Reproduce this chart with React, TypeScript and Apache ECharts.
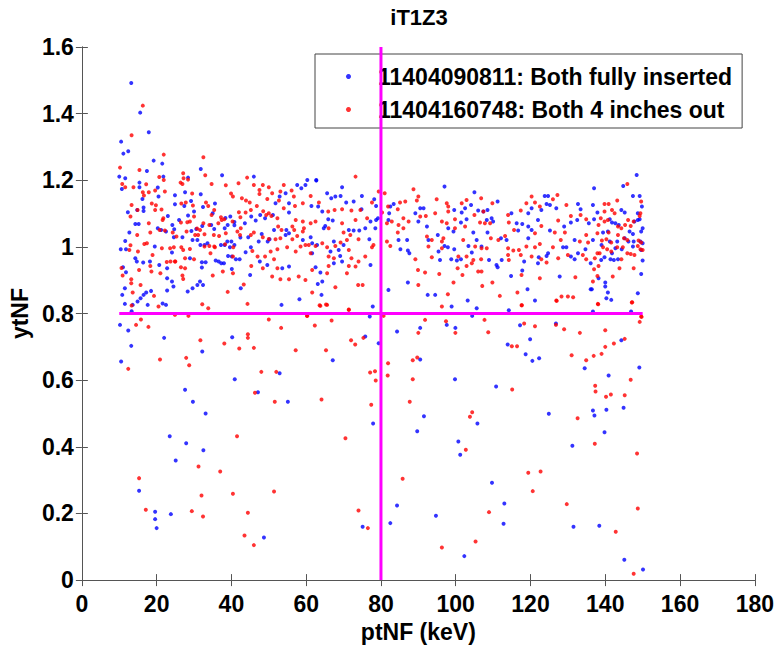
import React, { useEffect, useRef } from "react";
import * as echarts from "echarts";

const chartTitle = "iT1Z3";
const xName = "ptNF (keV)";
const yName = "ytNF";
const blueName = "11404090811: Both fully inserted";
const redName = "11404160748: Both 4 inches out";

const cutX = [[80, 0], [80, 1.6]];
const cutY = [[10, 0.8], [150, 0.8]];

const blueHigh = [[13.2,1.492],[15.6,1.403],[17.9,1.344],[10.5,1.316],[11.1,1.28],[12.4,1.287]];
const blueA = [[19.2,1.259],[21.5,1.25],[10.0,1.211],[11.6,1.206],[15.4,1.193],[17.4,1.228],[10.7,1.174],[15.4,1.179],[20.3,1.178],[21.8,1.211],[24.9,1.155],[27.6,1.164],[28.4,1.208],[31.8,1.234],[37.5,1.215],[46.0,1.211],[31.8,1.158],[20.5,1.151],[16.2,1.144],[24.9,1.128],[29.2,1.138],[30.0,1.106],[27.4,1.123],[32.4,1.12],[35.6,1.13],[16.5,1.118],[16.5,1.108],[12.3,1.104],[14.8,1.111],[23.0,1.093],[26.0,1.081],[28.4,1.094],[24.2,1.066],[35.0,1.101],[38.4,1.087],[39.7,1.091],[40.8,1.075],[43.6,1.071],[45.3,1.091],[46.5,1.079],[47.7,1.096],[49.0,1.086],[14.3,1.069],[15.2,1.069],[20.3,1.056],[21.2,1.051],[22.5,1.046],[24.7,1.053],[29.3,1.048],[30.6,1.054],[32.2,1.063],[34.6,1.066],[35.4,1.054],[38.2,1.056],[39.0,1.066],[40.8,1.065],[42.4,1.028],[44.5,1.029],[48.1,1.039],[12.7,1.043],[10.4,0.993],[11.8,0.993],[11.6,1.018],[19.5,1.001],[24.6,1.029],[26.9,1.029],[29.6,1.021],[30.9,1.021],[31.7,1.006],[32.8,1.006],[33.6,1.011],[37.2,1.006],[38.2,1.006],[38.9,1.016],[39.6,0.999],[40.0,1.016],[40.8,1.006],[43.8,0.984],[45.2,0.999],[47.3,1.016],[50.2,1.023],[14.3,0.966],[14.7,0.956],[16.4,0.953],[18.2,0.956],[20.7,0.946],[22.8,0.936],[24.1,0.983],[28.9,0.966],[32.1,0.954],[33.1,0.954],[35.8,0.959],[36.6,0.956],[37.3,0.951],[38.0,0.951],[39.1,0.973],[40.1,0.971],[41.2,0.963],[42.2,0.963],[32.1,0.938],[40.1,0.934],[11.0,0.939],[11.8,0.924],[22.8,0.906],[24.1,0.896],[24.5,0.881],[22.8,0.869],[18.5,0.868],[17.2,0.863],[16.5,0.856],[15.7,0.846],[14.9,0.836],[11.5,0.876],[10.8,0.856],[11.5,0.829],[13.6,0.826],[17.6,0.826],[21.6,0.83],[22.5,0.826],[28.3,0.866],[29.6,0.876],[30.9,0.886],[31.6,0.896],[32.4,0.886],[42.5,0.876],[45.0,0.916],[47.6,0.956],[49.6,0.946],[49.7,1.016],[13.3,0.807]];
const blueB = [[57.6,1.186],[59.8,1.186],[60.3,1.201],[62.7,1.201],[58.7,1.176],[54.5,1.161],[52.9,1.151],[65.6,1.161],[66.7,1.146],[67.8,1.151],[69.6,1.179],[69.2,1.153],[70.7,1.133],[72.7,1.136],[74.9,1.153],[74.8,1.113],[78.2,1.143],[78.7,1.123],[61.4,1.123],[63.2,1.121],[64.3,1.106],[51.8,1.131],[55.4,1.131],[55.4,1.103],[51.1,1.096],[65.9,1.083],[67.1,1.079],[64.7,1.056],[65.1,1.063],[54.7,1.051],[54.5,1.036],[55.4,1.041],[51.4,1.051],[59.1,1.021],[61.2,1.029],[61.6,1.011],[62.9,1.006],[67.4,1.016],[68.7,0.991],[69.1,0.973],[70.0,1.006],[71.4,1.051],[72.7,1.049],[74.2,1.049],[75.8,1.056],[76.9,1.023],[78.5,1.056],[78.7,1.081],[79.2,1.086],[77.2,1.076],[82.0,1.081],[82.5,1.121],[83.4,1.129],[82.2,1.101],[84.7,1.021],[87.0,1.021],[85.2,0.993],[87.2,0.989],[87.6,0.981],[89.2,1.101],[90.5,1.116],[91.4,1.116],[90.0,1.076],[92.3,1.061],[92.7,1.021],[61.6,0.981],[66.5,0.986],[69.6,0.956],[67.4,0.951],[62.5,0.939],[53.6,0.936],[55.4,0.941],[63.8,0.923],[64.3,0.896],[63.1,0.889],[77.2,0.946],[82.0,0.871],[87.2,0.893],[92.5,0.856],[58.2,0.843],[53.4,0.826],[64.1,0.856],[77.0,0.791],[77.8,0.821],[62.7,1.199]];
const blueC = [[97.0,1.181],[105.0,1.164],[104.1,1.126],[102.5,1.116],[99.6,1.111],[101.6,1.103],[106.0,1.109],[107.4,1.106],[108.5,1.111],[111.2,1.136],[109.6,1.086],[108.3,1.081],[110.0,1.076],[114.9,1.101],[119.4,1.101],[120.3,1.116],[123.8,1.153],[124.7,1.153],[124.3,1.129],[125.2,1.126],[122.9,1.111],[122.0,1.081],[117.8,1.069],[116.3,1.071],[116.7,1.049],[119.4,1.061],[120.3,1.051],[125.2,1.049],[126.9,1.116],[129.0,1.061],[130.8,1.073],[132.7,1.129],[133.4,1.113],[132.5,1.081],[135.6,1.071],[95.2,1.036],[98.0,1.056],[99.4,1.046],[101.4,1.073],[102.9,1.083],[104.7,1.043],[108.5,1.043],[112.1,1.026],[113.6,1.021],[119.4,1.026],[129.6,0.999],[131.8,1.021],[95.4,0.986],[95.8,0.961],[97.0,1.003],[97.9,0.999],[99.6,0.993],[103.4,1.003],[105.6,1.021],[106.9,1.001],[98.8,0.963],[100.3,0.959],[101.4,0.963],[104.3,0.983],[108.9,0.961],[110.9,0.946],[111.2,0.939],[112.3,0.961],[118.3,0.956],[117.8,0.929],[122.0,0.951],[122.2,0.969],[124.3,0.973],[124.7,0.981],[128.7,0.999],[130.8,0.971],[131.8,0.963],[132.7,0.981],[134.7,0.993],[136.1,0.951],[114.8,0.913],[127.8,0.911],[119.2,0.873],[94.5,0.856],[103.2,0.839],[98.9,0.821],[105.6,0.816],[114.2,0.81],[121.2,0.839],[136.1,0.873],[104.4,0.793]];
const blueD = [[148.4,1.216],[147.4,1.153],[149.2,1.153],[144.8,1.183],[149.8,1.121],[144.3,1.111],[137.0,1.176],[136.7,1.126],[137.9,1.103],[137.0,1.083],[141.8,1.073],[142.7,1.071],[141.2,1.083],[145.2,1.103],[148.7,1.101],[148.7,1.081],[147.8,1.076],[149.2,1.083],[143.6,1.066],[140.7,1.046],[139.4,1.043],[150.0,1.056],[146.5,1.046],[147.4,1.039],[149.6,1.046],[145.2,1.026],[146.2,1.016],[147.6,1.016],[149.4,1.016],[150.0,1.011],[136.7,1.021],[139.0,1.006],[141.2,1.016],[143.2,1.016],[142.7,0.996],[144.4,0.993],[141.8,0.981],[147.4,1.001],[149.6,0.991],[139.8,0.969],[141.4,0.963],[138.9,0.961],[142.3,0.961],[143.4,0.963],[150.0,0.959],[138.2,0.906],[140.0,0.893],[140.0,0.881],[136.4,0.873],[149.6,0.919],[140.7,0.863],[140.3,0.846],[141.6,0.841],[148.7,0.861],[146.9,0.806],[136.7,0.806]];
const blueLow = [[10.2,0.766],[12.4,0.749],[13.2,0.703],[10.5,0.656],[22.0,0.727],[32.2,0.686],[40.2,0.729],[40.9,0.603],[27.6,0.571],[29.7,0.535],[33.1,0.5],[23.5,0.432],[27.9,0.411],[32.5,0.39],[25.1,0.359],[15.3,0.268],[19.6,0.205],[23.8,0.198],[19.6,0.183],[20.0,0.156],[47.1,0.564],[52.9,0.621],[55.1,0.535],[48.7,0.128],[84.3,0.746],[75.8,0.731],[79.4,0.711],[67.1,0.66],[90.5,0.757],[90.5,0.662],[97.6,0.766],[99.9,0.757],[117.2,0.765],[113.9,0.707],[118.7,0.678],[119.9,0.723],[99.8,0.603],[110.8,0.581],[91.5,0.492],[77.9,0.47],[89.7,0.447],[105.8,0.47],[100.7,0.416],[101.2,0.376],[109.7,0.292],[113.0,0.23],[84.3,0.224],[94.7,0.193],[75.1,0.16],[82.5,0.171],[112.8,0.169],[102.3,0.072],[126.8,0.77],[120.5,0.658],[122.3,0.666],[134.5,0.636],[140.9,0.614],[144.3,0.72],[149.1,0.638],[124.9,0.499],[136.7,0.509],[137.1,0.494],[140.3,0.511],[144.9,0.517],[139.8,0.444],[131.2,0.403],[131.5,0.16],[138.4,0.163],[145.1,0.061],[150.1,0.032]];

const redHigh = [[16.3,1.424],[13.3,1.335],[21.9,1.277],[32.5,1.269]];
const redA = [[10.2,1.238],[15.4,1.231],[10.8,1.189],[11.6,1.179],[13.8,1.179],[17.2,1.188],[20.7,1.21],[21.9,1.201],[26.4,1.193],[26.9,1.189],[27.1,1.221],[27.2,1.206],[28.4,1.202],[33.0,1.215],[34.7,1.189],[38.5,1.185],[41.9,1.191],[44.2,1.208],[46.0,1.186],[48.4,1.186],[50.0,1.179],[47.5,1.171],[16.3,1.164],[16.6,1.154],[17.9,1.164],[19.6,1.169],[22.2,1.166],[29.5,1.16],[39.9,1.16],[40.4,1.151],[42.8,1.146],[43.9,1.139],[44.9,1.133],[47.5,1.159],[49.6,1.144],[13.3,1.126],[14.9,1.111],[18.7,1.13],[19.8,1.125],[19.6,1.111],[21.3,1.112],[21.8,1.086],[26.6,1.13],[27.8,1.133],[29.7,1.124],[33.2,1.133],[33.8,1.123],[35.4,1.111],[34.7,1.096],[37.2,1.089],[37.4,1.081],[42.0,1.104],[42.4,1.089],[43.8,1.103],[45.2,1.111],[46.8,1.123],[48.5,1.107],[49.3,1.096],[50.0,1.101],[50.7,1.093],[13.0,1.091],[17.9,1.071],[21.6,1.081],[26.5,1.073],[28.2,1.074],[28.9,1.076],[30.0,1.091],[30.8,1.055],[31.6,1.051],[32.5,1.071],[34.1,1.066],[36.5,1.071],[38.1,1.083],[40.3,1.076],[42.5,1.056],[46.0,1.043],[14.8,1.036],[18.3,1.043],[20.8,1.051],[22.2,1.049],[24.3,1.043],[25.3,1.031],[28.0,1.046],[30.3,1.036],[31.1,1.036],[32.8,1.038],[35.3,1.036],[36.7,1.033],[38.5,1.041],[41.6,1.046],[42.3,1.036],[45.2,1.036],[48.4,1.029],[50.0,1.024],[13.0,1.005],[12.7,0.991],[16.7,1.009],[17.4,1.011],[21.4,0.996],[23.6,0.996],[24.6,0.999],[26.6,0.999],[27.1,0.991],[28.9,0.994],[32.8,1.001],[34.1,1.003],[35.4,1.001],[38.3,1.008],[40.5,0.999],[45.6,0.988],[47.0,0.971],[49.0,0.971],[50.5,0.986],[15.0,0.986],[18.9,0.976],[22.7,0.955],[23.7,0.956],[24.9,0.956],[27.6,0.966],[26.5,0.939],[27.6,0.936],[30.0,0.963],[34.4,0.981],[35.6,0.999],[40.4,0.971],[48.4,0.936],[10.6,0.937],[15.3,0.931],[18.3,0.943],[18.6,0.926],[21.0,0.921],[25.0,0.956],[26.9,0.914],[27.1,0.904],[35.0,0.914],[37.7,0.926],[40.4,0.921],[45.3,0.943],[13.2,0.903],[13.2,0.891],[15.7,0.886],[19.3,0.853],[20.5,0.821],[24.9,0.796],[28.5,0.793],[32.2,0.828],[33.8,0.816],[39.0,0.865],[43.3,0.887],[44.3,0.829],[10.9,0.914],[13.6,0.863],[13.3,0.824],[15.8,0.782]];
const redB = [[73.2,1.211],[54.0,1.186],[50.9,1.161],[53.1,1.166],[56.1,1.169],[56.7,1.151],[61.2,1.153],[52.7,1.139],[57.0,1.123],[54.0,1.116],[59.1,1.131],[63.4,1.133],[65.9,1.106],[67.6,1.111],[69.6,1.113],[72.1,1.109],[74.5,1.111],[77.6,1.133],[79.4,1.166],[81.0,1.161],[81.9,1.121],[84.5,1.113],[85.1,1.133],[86.5,1.136],[88.7,1.173],[90.0,1.151],[89.6,1.139],[92.0,1.093],[90.5,1.091],[87.4,1.076],[86.0,1.086],[84.7,1.066],[82.9,1.076],[81.6,1.071],[80.3,1.103],[52.3,1.086],[57.2,1.081],[59.1,1.076],[61.2,1.071],[62.5,1.076],[52.5,1.061],[56.3,1.061],[56.8,1.051],[53.4,1.051],[59.4,1.056],[59.1,1.046],[66.0,1.056],[69.6,1.071],[70.0,1.043],[71.8,1.036],[73.2,1.081],[76.3,1.086],[51.8,1.023],[53.1,1.026],[56.3,1.023],[57.6,1.033],[59.8,1.006],[60.7,1.006],[62.5,1.003],[64.3,1.011],[65.6,0.999],[67.8,1.003],[69.2,1.013],[70.9,1.021],[74.0,1.023],[77.6,0.999],[78.0,1.006],[81.6,1.016],[82.5,1.003],[84.5,1.043],[86.0,1.056],[92.3,1.031],[92.7,1.001],[52.3,0.993],[54.9,0.999],[57.2,0.986],[58.5,1.001],[61.2,0.981],[66.0,0.971],[67.4,0.966],[71.4,0.991],[72.1,0.966],[73.2,0.941],[71.4,0.943],[74.0,0.956],[75.8,0.971],[66.0,0.943],[51.4,0.963],[52.3,0.936],[50.9,0.911],[53.1,0.903],[55.4,0.903],[59.8,0.901],[58.0,0.911],[61.6,0.931],[65.6,0.921],[70.9,0.921],[73.9,0.886],[75.1,0.886],[67.8,0.879],[61.6,0.863],[63.8,0.823],[65.6,0.826],[71.4,0.811],[89.9,0.931],[91.8,0.923],[90.0,0.886],[60.3,0.793],[89.2,0.963],[60.2,0.793],[63.6,0.825],[65.3,0.827],[71.4,0.812],[80.7,0.793],[91.8,0.781]];
const redC = [[94.9,1.143],[97.6,1.131],[98.0,1.121],[98.0,1.106],[101.6,1.131],[102.9,1.141],[106.8,1.146],[109.8,1.131],[94.5,1.101],[96.3,1.076],[97.6,1.071],[99.8,1.083],[99.8,1.056],[102.5,1.061],[105.0,1.096],[106.5,1.073],[107.8,1.071],[107.4,1.106],[109.2,1.071],[114.0,1.096],[117.4,1.109],[118.9,1.131],[120.3,1.151],[121.2,1.133],[122.5,1.121],[127.2,1.156],[126.0,1.143],[129.6,1.126],[127.4,1.079],[130.8,1.093],[133.4,1.096],[134.9,1.083],[114.2,1.073],[115.6,1.051],[121.2,1.041],[122.9,1.063],[126.5,1.043],[129.2,1.043],[134.9,1.036],[93.6,1.021],[96.3,1.016],[96.7,1.026],[102.0,1.021],[105.2,1.001],[106.9,0.996],[108.3,0.996],[109.4,1.026],[111.4,1.021],[113.2,1.033],[114.0,0.996],[115.4,0.989],[116.9,0.991],[118.9,1.001],[121.2,0.999],[122.5,1.009],[126.0,0.999],[128.1,1.021],[133.2,1.016],[135.4,1.013],[93.6,0.969],[96.3,0.996],[100.7,0.971],[102.9,0.971],[104.7,0.961],[106.8,0.963],[114.0,0.976],[114.2,0.961],[117.4,0.976],[120.3,0.971],[122.9,0.963],[124.3,0.953],[127.4,0.966],[130.0,0.976],[134.0,0.976],[134.9,0.963],[100.5,0.936],[102.9,0.943],[104.3,0.951],[101.8,0.916],[106.0,0.926],[106.9,0.926],[117.6,0.916],[122.5,0.906],[132.0,0.909],[95.6,0.919],[99.4,0.893],[109.8,0.893],[107.1,0.883],[97.9,0.858],[96.3,0.821],[111.8,0.853],[116.5,0.863],[117.6,0.825],[126.9,0.839],[128.3,0.851],[130.0,0.851],[131.4,0.849],[117.7,0.825],[127.0,0.838]];
const redD = [[145.9,1.189],[149.6,1.136],[139.8,1.129],[140.9,1.129],[143.2,1.139],[141.8,1.111],[142.5,1.101],[139.8,1.106],[149.4,1.101],[149.2,1.093],[138.8,1.086],[139.8,1.076],[140.7,1.081],[146.1,1.081],[147.6,1.076],[145.3,1.066],[146.8,1.063],[143.4,1.061],[144.3,1.056],[138.2,1.066],[137.9,1.041],[140.9,1.043],[143.4,1.036],[145.0,1.026],[145.9,1.021],[139.1,1.019],[140.3,1.023],[141.6,1.013],[148.9,1.019],[149.6,1.013],[139.4,0.999],[140.5,0.993],[141.6,0.986],[143.2,0.999],[144.7,0.999],[149.4,0.993],[150.0,0.991],[148.7,1.003],[145.9,0.981],[146.8,0.979],[147.8,0.976],[137.9,0.981],[138.5,0.981],[137.2,0.966],[144.3,0.963],[138.2,0.943],[137.0,0.933],[143.8,0.936],[147.6,0.936],[142.0,0.911],[137.9,0.913],[136.7,0.896],[138.0,0.829],[147.1,0.833],[149.6,0.791],[138.1,0.828],[147.2,0.834]];
const redLow = [[14.5,0.766],[17.8,0.76],[12.4,0.634],[20.9,0.662],[27.9,0.667],[28.7,0.645],[31.7,0.72],[38.1,0.71],[42.1,0.695],[44.4,0.738],[44.4,0.727],[46.0,0.697],[48.0,0.625],[52.0,0.625],[46.3,0.562],[51.6,0.535],[57.2,0.69],[50.0,0.782],[53.3,0.757],[41.5,0.432],[31.2,0.341],[37.0,0.326],[15.3,0.306],[32.0,0.254],[40.4,0.259],[51.4,0.266],[17.1,0.211],[29.4,0.207],[32.4,0.191],[44.4,0.202],[43.5,0.134],[46.0,0.105],[62.3,0.764],[66.8,0.779],[72.0,0.72],[73.1,0.707],[75.3,0.727],[65.3,0.69],[77.1,0.623],[78.4,0.627],[78.6,0.599],[77.4,0.526],[64.1,0.542],[70.5,0.426],[81.9,0.651],[81.8,0.614],[88.5,0.66],[89.7,0.668],[88.5,0.603],[87.7,0.535],[90.0,0.742],[97.4,0.777],[99.9,0.742],[107.7,0.781],[108.7,0.744],[115.0,0.702],[116.4,0.702],[118.3,0.77],[115.1,0.572],[104.4,0.504],[103.8,0.49],[102.7,0.391],[85.8,0.304],[74.0,0.209],[76.5,0.156],[108.9,0.204],[105.3,0.116],[96.3,0.098],[119.4,0.322],[121.2,0.762],[126.8,0.766],[129.0,0.753],[133.2,0.742],[140.0,0.75],[149.2,0.775],[149.7,0.79],[145.2,0.724],[142.3,0.71],[140.0,0.7],[139.0,0.679],[136.9,0.673],[134.9,0.66],[131.0,0.675],[146.8,0.601],[137.3,0.583],[137.4,0.566],[140.2,0.55],[141.5,0.557],[145.2,0.555],[132.6,0.486],[137.2,0.409],[148.5,0.38],[122.7,0.326],[120.6,0.267],[129.7,0.228],[148.7,0.215],[142.8,0.145],[147.6,0.019]];

const blueData = [...blueHigh, ...blueA, ...blueB, ...blueC, ...blueD, ...blueLow];
const redData = [...redHigh, ...redA, ...redB, ...redC, ...redD, ...redLow];

const FONT = "Liberation Sans";

export default function App() {
  const ref = useRef<HTMLDivElement>(null);
  useEffect(() => {
    if (!ref.current) return;
    const chart = echarts.init(ref.current, null, { renderer: "svg" });
    const axisLine = { show: true, lineStyle: { color: "#555", width: 1 } };
    const tickStyle = { show: true, inside: true, length: 6, lineStyle: { color: "#555" } };
    chart.setOption({
      animation: false,
      backgroundColor: "#fff",
      grid: { left: 80, right: 21, top: 47, bottom: 67, containLabel: false },
      graphic: [
        {
          type: "text",
          x: 419,
          y: 17,
          style: {
            text: chartTitle,
            fontFamily: FONT,
            fontWeight: "bold",
            fontSize: 22,
            fill: "#000",
            textAlign: "center",
            textVerticalAlign: "middle",
          },
        },
      ],
      legend: {
        orient: "vertical",
        left: 315,
        top: 54,
        backgroundColor: "#fff",
        borderColor: "#444",
        borderWidth: 1,
        borderRadius: 0,
        padding: [10, 10, 6, 31],
        itemGap: 8,
        itemWidth: 5,
        itemHeight: 5,
        icon: "circle",
        textStyle: {
          fontFamily: FONT,
          fontWeight: "bold",
          fontSize: 23,
          color: "#000",
          padding: [0, 0, 0, 22],
          lineHeight: 25,
        },
        data: [blueName, redName],
      },
      xAxis: [
        {
          type: "value",
          min: 0,
          max: 180,
          interval: 20,
          name: xName,
          nameLocation: "middle",
          nameGap: 38,
          nameTextStyle: { fontFamily: FONT, fontWeight: "bold", fontSize: 23, color: "#000" },
          axisLine,
          axisTick: tickStyle,
          splitLine: { show: false },
          axisLabel: { fontFamily: FONT, fontWeight: "bold", fontSize: 23, color: "#000", margin: 12 },
        },
        {
          type: "value",
          position: "top",
          min: 0,
          max: 180,
          interval: 20,
          axisLine,
          axisTick: tickStyle,
          splitLine: { show: false },
          axisLabel: { show: false },
        },
      ],
      yAxis: [
        {
          type: "value",
          min: 0,
          max: 1.6,
          interval: 0.2,
          name: yName,
          nameLocation: "middle",
          nameGap: 41,
          nameTextStyle: { fontFamily: FONT, fontWeight: "bold", fontSize: 23, color: "#000" },
          axisLine,
          axisTick: tickStyle,
          splitLine: { show: false },
          axisLabel: { fontFamily: FONT, fontWeight: "bold", fontSize: 23, color: "#000", margin: 8 },
        },
        {
          type: "value",
          position: "right",
          min: 0,
          max: 1.6,
          interval: 0.2,
          axisLine,
          axisTick: tickStyle,
          splitLine: { show: false },
          axisLabel: { show: false },
        },
      ],
      series: [
        {
          name: blueName,
          type: "scatter",
          data: blueData,
          symbol: "circle",
          symbolSize: 4,
          itemStyle: { color: "#0000ff" },
          z: 2,
        },
        {
          name: redName,
          type: "scatter",
          data: redData,
          symbol: "circle",
          symbolSize: 4,
          itemStyle: { color: "#ff0000" },
          z: 3,
        },
        {
          type: "line",
          data: cutX,
          symbol: "none",
          lineStyle: { color: "#ff00ff", width: 3 },
          z: 4,
          silent: true,
        },
        {
          type: "line",
          data: cutY,
          symbol: "none",
          lineStyle: { color: "#ff00ff", width: 3 },
          z: 4,
          silent: true,
        },
      ],
    });
    return () => chart.dispose();
  }, []);
  return (
    <div
      ref={ref}
      style={{ position: "fixed", left: 0, top: 0, width: 777, height: 648, background: "#fff" }}
    />
  );
}
